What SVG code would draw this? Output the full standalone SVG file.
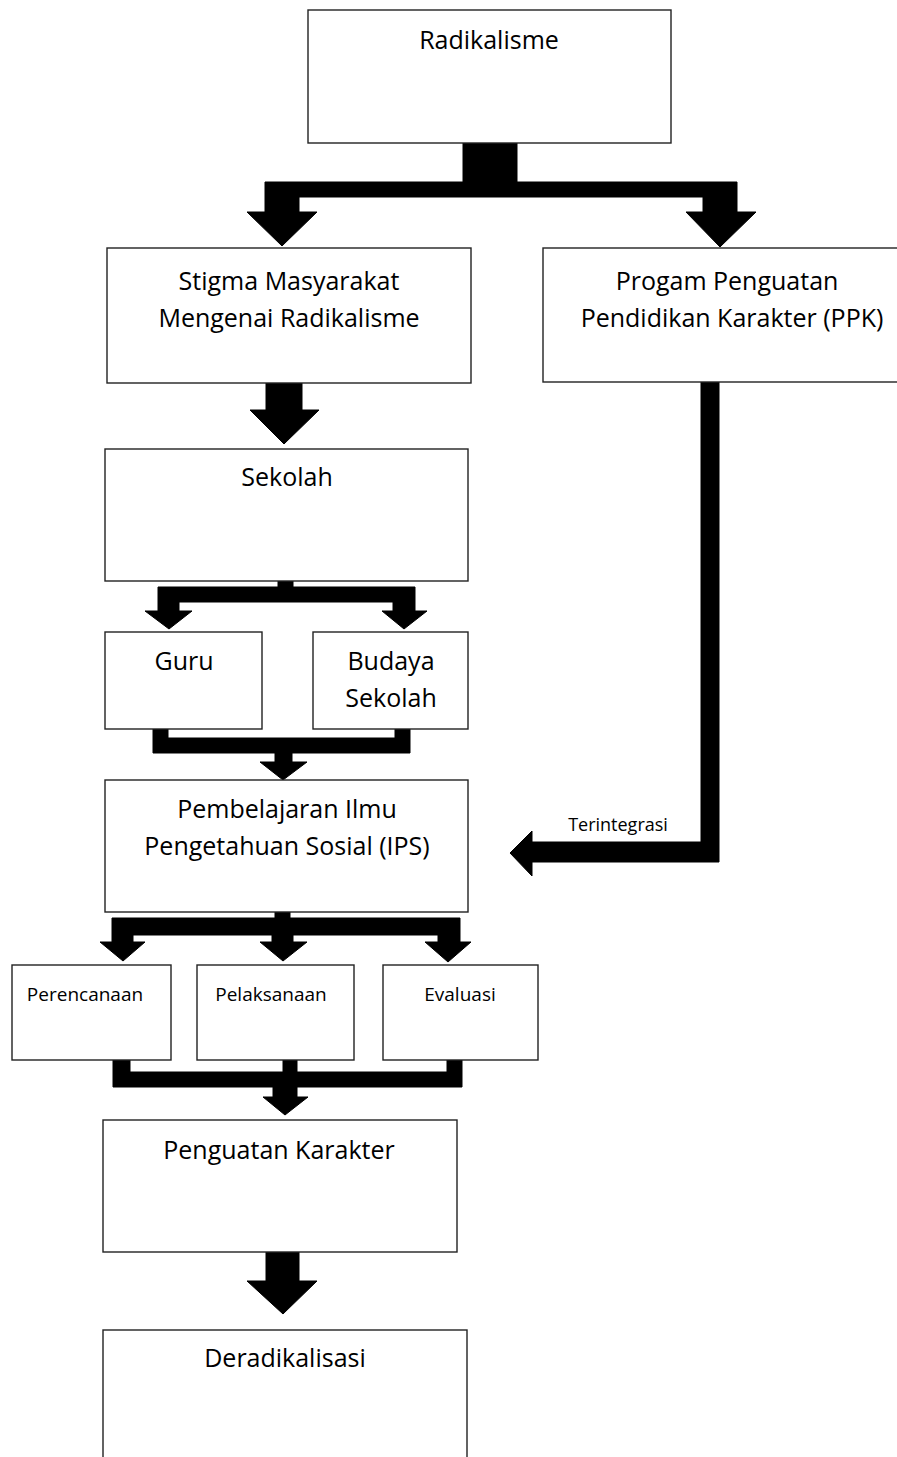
<svg xmlns="http://www.w3.org/2000/svg" width="897" height="1457" viewBox="0 0 897 1457">
<style>
.box{fill:#fff;stroke:#222;stroke-width:1.4}
.t{font-family:"Open Sans","Liberation Sans",sans-serif;font-size:25px;fill:#000;text-anchor:middle}
.s{font-family:"Open Sans","Liberation Sans",sans-serif;font-size:19px;fill:#000;text-anchor:middle}
.c{fill:#000;stroke:#000;stroke-width:1;stroke-linejoin:round}
</style>
<rect width="897" height="1457" fill="#fff"/>
<g id="connectors">
<path class="c" d="M463,143 H517 V182 H737 V212 H756 L720,247 L686,212 H703 V197 H299 V212 H317 L282,246 L247,212 H265 V182 H463 Z"/>
<path class="c" d="M266,383 H302 V410 H319 L284,444 L250,410 H266 Z"/>
<path class="c" d="M278,579 H293 V587 H415 V611 H427 L404,629 L382,611 H393 V602 H179 V611 H192 L169,629 L145,611 H158 V587 H278 Z"/>
<path class="c" d="M153,727 H168 V738 H395 V727 H410 V753 H292 V762 H307 L283,780 L260,762 H275 V753 H153 Z"/>
<path class="c" d="M275,911 H290 V918 H460 V942 H471 L448,962 L425,942 H438 V935 H293 V942 H307 L283,961 L260,942 H272 V935 H133 V942 H145 L123,961 L100,942 H112 V918 H275 Z"/>
<path class="c" d="M113,1060 H130 V1072 H283 V1060 H297 V1072 H447 V1060 H462 V1087 H297 V1097 H308 L285,1115 L263,1097 H273 V1087 H113 Z"/>
<path class="c" d="M266,1252 H299 V1281 H317 L283,1314 L247,1281 H266 Z"/>
<path class="c" d="M701,380 H719 V862 H532 V876 L510,853 L532,831 V842 H701 Z"/>
<text class="s" x="618" y="831" style="font-size:18px">Terintegrasi</text>
</g>
<g id="radikalisme"><rect class="box" x="308" y="10" width="363" height="133"/><text class="t" x="489" y="49">Radikalisme</text></g>
<g id="stigma"><rect class="box" x="107" y="248" width="364" height="135"/><text class="t" x="289" y="290">Stigma Masyarakat</text><text class="t" x="289" y="327">Mengenai Radikalisme</text></g>
<g id="ppk"><rect class="box" x="543" y="248" width="400" height="134"/><text class="t" x="727" y="290">Progam Penguatan</text><text class="t" x="732" y="327">Pendidikan Karakter (PPK)</text></g>
<g id="sekolah"><rect class="box" x="105" y="449" width="363" height="132"/><text class="t" x="287" y="486">Sekolah</text></g>
<g id="guru"><rect class="box" x="105" y="632" width="157" height="97"/><text class="t" x="184" y="670">Guru</text></g>
<g id="budaya"><rect class="box" x="313" y="632" width="155" height="97"/><text class="t" x="391" y="670">Budaya</text><text class="t" x="391" y="707">Sekolah</text></g>
<g id="ips"><rect class="box" x="105" y="780" width="363" height="132"/><text class="t" x="287" y="818">Pembelajaran Ilmu</text><text class="t" x="287" y="855">Pengetahuan Sosial (IPS)</text></g>
<g id="perencanaan"><rect class="box" x="12" y="965" width="159" height="95"/><text class="s" x="85" y="1001">Perencanaan</text></g>
<g id="pelaksanaan"><rect class="box" x="197" y="965" width="157" height="95"/><text class="s" x="271" y="1001">Pelaksanaan</text></g>
<g id="evaluasi"><rect class="box" x="383" y="965" width="155" height="95"/><text class="s" x="460" y="1001">Evaluasi</text></g>
<g id="penguatan"><rect class="box" x="103" y="1120" width="354" height="132"/><text class="t" x="279" y="1159">Penguatan Karakter</text></g>
<g id="deradikalisasi"><rect class="box" x="103" y="1330" width="364" height="140"/><text class="t" x="285" y="1367">Deradikalisasi</text></g>
</svg>
